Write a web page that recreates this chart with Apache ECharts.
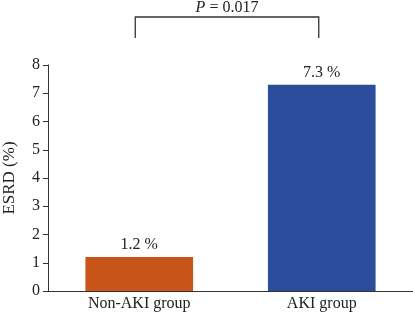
<!DOCTYPE html>
<html><head><meta charset="utf-8">
<script src="https://cdn.jsdelivr.net/npm/echarts@6/dist/echarts.min.js"></script>
<style>html,body{margin:0;padding:0;background:#fff}#c{width:413px;height:314px}</style>
</head><body><div id="c"></div>
<script>
const categories = ["Non-AKI group", "AKI group"];
const values = [1.2, 7.3];
const colors = ["#C9541A", "#2C4C9C"];
const yTicks = [0, 1, 2, 3, 4, 5, 6, 7, 8];
const pText = "P = 0.017";

const font = "Liberation Serif";
const chart = echarts.init(document.getElementById('c'), null, {renderer: 'canvas'});
chart.setOption({
  animation: false,
  grid: {left: 48, right: 0, top: 65, bottom: 23, containLabel: false, outerBoundsMode: 'none'},
  xAxis: {
    type: 'category', data: categories,
    axisLine: {lineStyle: {color: '#333', width: 1}},
    axisTick: {show: false},
    axisLabel: {color: '#222', fontFamily: font, fontSize: 16, margin: 5}
  },
  yAxis: {
    type: 'value', min: yTicks[0], max: yTicks[yTicks.length - 1], interval: 1,
    name: 'ESRD (%)', nameLocation: 'middle', nameGap: 30,
    nameTextStyle: {color: '#222', fontFamily: font, fontSize: 17},
    axisLine: {show: true, lineStyle: {color: '#333', width: 1}},
    axisTick: {show: true, length: 5, lineStyle: {color: '#333'}},
    splitLine: {show: false},
    axisLabel: {color: '#222', fontFamily: font, fontSize: 16, margin: 8}
  },
  series: [{
    type: 'bar', barWidth: '59%',
    data: values.map((v, i) => ({value: v, itemStyle: {color: colors[i]}})),
    label: {show: true, position: 'top', distance: 4, formatter: p => p.value + ' %',
      color: '#222', fontFamily: font, fontSize: 16}
  }]
});
const x1 = chart.convertToPixel({xAxisIndex: 0}, categories[0]) - 4;
const x2 = chart.convertToPixel({xAxisIndex: 0}, categories[1]) - 3;
const yTop = 17, yBot = 38;
chart.setOption({
  graphic: [
    {type: 'polyline', shape: {points: [[x1, yBot], [x1, yTop], [x2, yTop], [x2, yBot]]},
      style: {stroke: '#333', lineWidth: 1.3, fill: null}},
    {type: 'text', x: (x1 + x2) / 2, y: 8,
      style: {rich: {i: {fontStyle: 'italic', fontFamily: font, fontSize: 16, fill: '#222'},
                     n: {fontFamily: font, fontSize: 16, fill: '#222'}},
              text: '{i|P}{n| = 0.017}', align: 'center', verticalAlign: 'middle'}}
  ]
});
</script></body></html>
